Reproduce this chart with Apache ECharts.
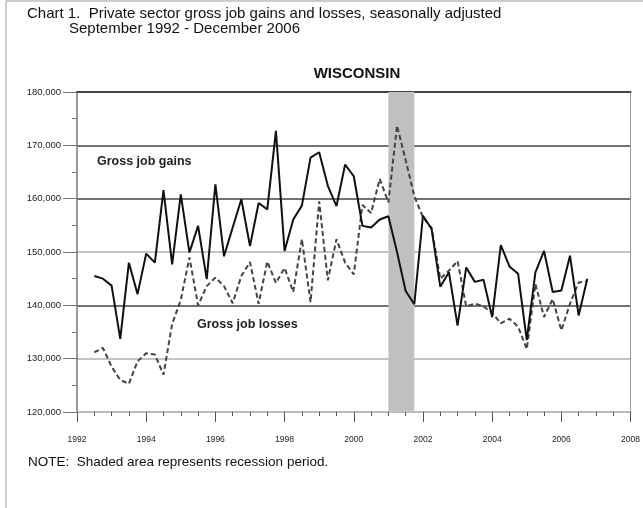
<!DOCTYPE html>
<html><head><meta charset="utf-8">
<script src="https://cdn.jsdelivr.net/npm/echarts@6/dist/echarts.min.js"></script>
<style>html,body{margin:0;padding:0;background:#fff}#c{width:643px;height:508px}</style>
</head><body><div id="c"></div>
<script>
const quarters = [
  '1992Q3','1992Q4',
  '1993Q1','1993Q2','1993Q3','1993Q4',
  '1994Q1','1994Q2','1994Q3','1994Q4',
  '1995Q1','1995Q2','1995Q3','1995Q4',
  '1996Q1','1996Q2','1996Q3','1996Q4',
  '1997Q1','1997Q2','1997Q3','1997Q4',
  '1998Q1','1998Q2','1998Q3','1998Q4',
  '1999Q1','1999Q2','1999Q3','1999Q4',
  '2000Q1','2000Q2','2000Q3','2000Q4',
  '2001Q1','2001Q2','2001Q3','2001Q4',
  '2002Q1','2002Q2','2002Q3','2002Q4',
  '2003Q1','2003Q2','2003Q3','2003Q4',
  '2004Q1','2004Q2','2004Q3','2004Q4',
  '2005Q1','2005Q2','2005Q3','2005Q4',
  '2006Q1','2006Q2','2006Q3','2006Q4'
];
// thousands of jobs
const gains = [
  145.5,145.0,
  143.7,133.7,148.0,142.1,
  149.7,148.0,161.6,147.7,
  160.8,149.9,154.9,144.9,
  162.7,149.2,154.6,159.9,
  151.1,159.2,158.0,172.7,
  150.2,156.1,158.7,167.7,
  168.7,162.4,158.6,166.4,
  164.2,154.9,154.6,156.1,
  156.7,150.0,142.7,140.2,
  156.8,154.3,143.5,146.2,
  136.2,147.1,144.4,144.8,
  137.8,151.3,147.3,145.9,
  133.5,146.2,150.2,142.5,
  142.8,149.3,138.1,145.0
];
const losses = [
  131.2,132.0,
  128.5,126.0,125.3,129.5,
  131.0,130.8,127.0,136.5,
  141.0,149.0,140.0,143.6,
  145.2,143.6,140.4,145.5,
  148.1,140.3,148.2,144.2,
  147.0,142.5,152.4,140.6,
  159.5,144.7,152.4,148.0,
  145.8,158.8,157.3,163.7,
  159.3,173.7,167.2,160.5,
  156.5,154.5,145.0,146.5,
  148.3,139.8,140.3,139.8,
  138.6,136.6,137.5,136.0,
  131.8,144.0,137.8,141.2,
  135.3,140.3,144.3,144.5
];
const recession = [2001.0, 2001.75];
const yMin = 120, yMax = 180, yStep = 10;
const xMin = 1992, xMax = 2008, xStep = 2;
const titleLine1 = 'Chart 1.  Private sector gross job gains and losses, seasonally adjusted';
const titleLine2 = 'September 1992 - December 2006';
const stateName = 'WISCONSIN';
const gainsLabel = 'Gross job gains';
const lossesLabel = 'Gross job losses';
const noteText = 'NOTE:  Shaded area represents recession period.';

function qx(q) { return Number(q.slice(0, 4)) + (Number(q.slice(5)) - 1) / 4; }

const FONT = '"Liberation Sans", Arial, sans-serif';
const chart = echarts.init(document.getElementById('c'), null, {renderer: 'canvas'});
chart.setOption({
  animation: false,
  backgroundColor: '#fff',
  grid: {left: 77, right: 7, top: 92, bottom: 96, containLabel: false},
  xAxis: [{
    type: 'value', min: xMin, max: xMax, interval: xStep,
    axisLine: {show: true, onZero: false, lineStyle: {color: '#bbb', width: 2}},
    axisTick: {show: true, length: 10, lineStyle: {color: '#555', width: 1}},
    minorTick: {show: true, splitNumber: 4, length: 4, lineStyle: {color: '#555', width: 1}},
    splitLine: {show: false},
    axisLabel: {margin: 23, formatter: v => String(v), fontSize: 8.5, color: '#222', fontFamily: FONT}
  }, {
    type: 'value', position: 'top', min: xMin, max: xMax,
    axisLine: {show: true, onZero: false, lineStyle: {color: '#444', width: 2}},
    axisTick: {show: false}, axisLabel: {show: false}, splitLine: {show: false}
  }],
  yAxis: [{
    type: 'value', min: yMin, max: yMax, interval: yStep,
    axisLine: {show: true, onZero: false, lineStyle: {color: '#777', width: 1.5}},
    axisTick: {show: true, length: 14, lineStyle: {color: '#777', width: 1}},
    minorTick: {show: true, splitNumber: 2, length: 5, lineStyle: {color: '#777', width: 1}},
    splitLine: {show: true, lineStyle: {color: ['#bbb', '#b0b0b0', '#444', '#b0b0b0', '#444', '#444', '#444'], width: 1.5}},
    axisLabel: {margin: 16, formatter: v => v + ',000', fontSize: 9.5, color: '#222', fontFamily: FONT}
  }, {
    type: 'value', position: 'right', min: yMin, max: yMax,
    axisLine: {show: true, onZero: false, lineStyle: {color: '#999', width: 1}},
    axisTick: {show: false}, axisLabel: {show: false}, splitLine: {show: false}
  }],
  series: [{
    type: 'line', data: [], silent: true,
    markArea: {silent: true, itemStyle: {color: '#c0c0c0', opacity: 1},
      data: [[{xAxis: recession[0], yAxis: yMin}, {xAxis: recession[1], yAxis: yMax}]]}
  }, {
    name: 'Gross job losses', type: 'line', symbol: 'none',
    data: quarters.map((q, i) => [qx(q), losses[i]]),
    lineStyle: {color: '#444', width: 2, type: [5, 3]}
  }, {
    name: 'Gross job gains', type: 'line', symbol: 'none',
    data: quarters.map((q, i) => [qx(q), gains[i]]),
    lineStyle: {color: '#111', width: 2}
  }],
  graphic: [
    {type: 'rect', shape: {x: 6, y: 1, width: 650, height: 520}, style: {fill: 'none', stroke: '#999', lineWidth: 1}, silent: true},
    {type: 'text', x: 27, y: 14, style: {text: titleLine1, font: '15px ' + FONT, fill: '#111', verticalAlign: 'middle'}},
    {type: 'text', x: 69, y: 29, style: {text: titleLine2, font: '15px ' + FONT, fill: '#111', verticalAlign: 'middle'}},
    {type: 'text', x: 357, y: 74, style: {text: stateName, font: 'bold 15px ' + FONT, fill: '#111', align: 'center', verticalAlign: 'middle'}},
    {type: 'text', x: 97, y: 162, style: {text: gainsLabel, font: 'bold 12.5px ' + FONT, fill: '#222', verticalAlign: 'middle'}},
    {type: 'text', x: 197, y: 325, style: {text: lossesLabel, font: 'bold 12.5px ' + FONT, fill: '#222', verticalAlign: 'middle'}},
    {type: 'text', x: 28, y: 462, style: {text: noteText, font: '13.5px ' + FONT, fill: '#111', verticalAlign: 'middle'}}
  ]
});
</script></body></html>
